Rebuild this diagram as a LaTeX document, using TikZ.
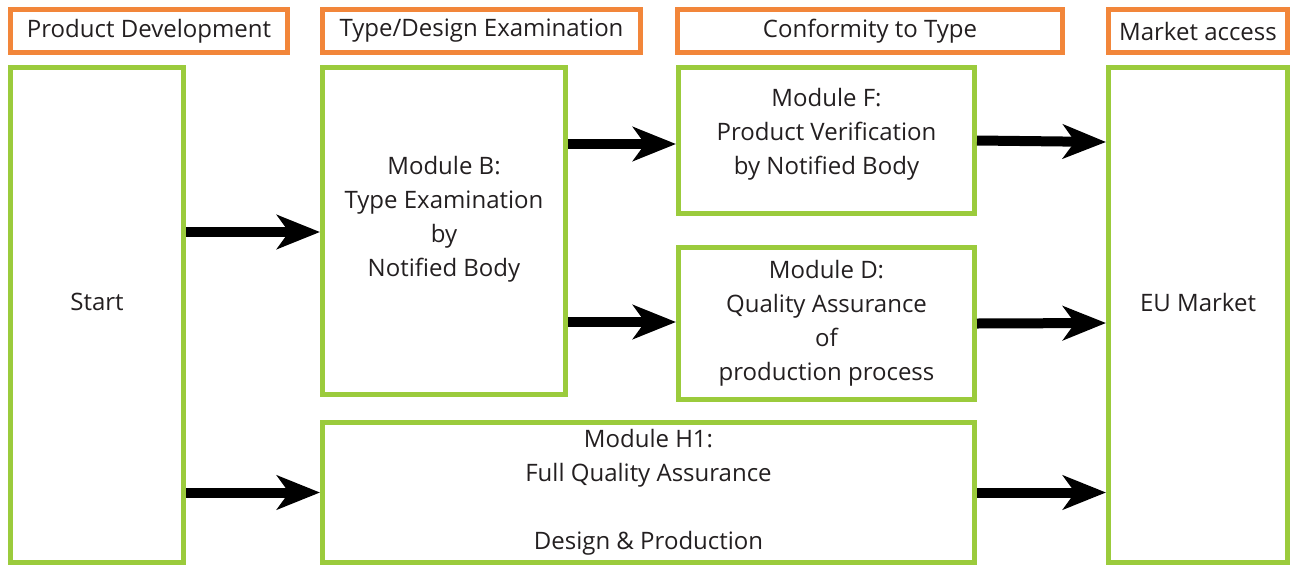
\documentclass[tikz,border=0pt]{standalone}
\usepackage{fontspec}
\setmainfont{Open Sans}
\usetikzlibrary{arrows.meta}
\definecolor{hdrorange}{RGB}{242,134,58}
\definecolor{modgreen}{RGB}{155,203,60}
\definecolor{txtgray}{RGB}{35,31,32}
\tikzset{
  hdr/.style={draw=hdrorange, line width=5pt, inner sep=0pt, text=txtgray},
  modbox/.style={draw=modgreen, line width=5pt, inner sep=0pt, align=center, text=txtgray},
  flow/.style={line width=10pt, -{Stealth[length=43pt, width=34pt, inset=12pt]}}
}
\begin{document}
\begin{tikzpicture}[x=1pt, y=-1pt, font=\fontsize{24}{34}\selectfont]
\useasboundingbox (0,0) rectangle (1298,568);
% phases
\node[hdr, minimum width=277pt, minimum height=43pt] (pd) at (149,31) {Product Development};
\node[hdr, minimum width=318pt, minimum height=43pt] (te) at (481.5,31) {Type/Design Examination};
\node[hdr, minimum width=385pt, minimum height=43pt] (ct) at (870,31) {Conformity to Type};
\node[hdr, minimum width=179pt, minimum height=43pt] (ma) at (1198,31) {Market access};
% modules
\node[modbox, minimum width=173pt, minimum height=495pt, text depth=26pt] (start) at (97,315) {Start};
\node[modbox, minimum width=243pt, minimum height=327pt, text depth=30pt] (modb) at (444,231) {Module B:\\Type Examination\\by\\Notified Body};
\node[modbox, minimum width=296pt, minimum height=146pt, text depth=18pt] (modf) at (826.5,140.5) {Module F:\\Product Verification\\by Notified Body};
\node[modbox, minimum width=296pt, minimum height=152pt] (modd) at (826.5,323.5) {Module D:\\Quality Assurance\\of\\production process};
\node[modbox, minimum width=652pt, minimum height=140pt] (modh) at (648.5,492.5) {Module H1:\\Full Quality Assurance\\ \\Design \& Production};
\node[modbox, minimum width=179pt, minimum height=495pt, text depth=26pt] (eu) at (1198,315) {EU Market};
% arrows
\draw[flow] ([yshift=83pt]start.east) -- ([yshift=-1pt]modb.west);
\draw[flow] (start.east |- modh.west) -- (modh.west);
\draw[flow] ([yshift=87pt]modb.east) -- ([yshift=-3.5pt]modf.west);
\draw[flow] ([yshift=-91pt]modb.east) -- ([yshift=1.5pt]modd.west);
\draw[flow] (modf.east) -- ([yshift=173pt]eu.west);
\draw[flow] (modd.east) -- ([yshift=-8pt]eu.west);
\draw[flow] (modh.east) -- (eu.west |- modh.east);
\end{tikzpicture}
\end{document}
